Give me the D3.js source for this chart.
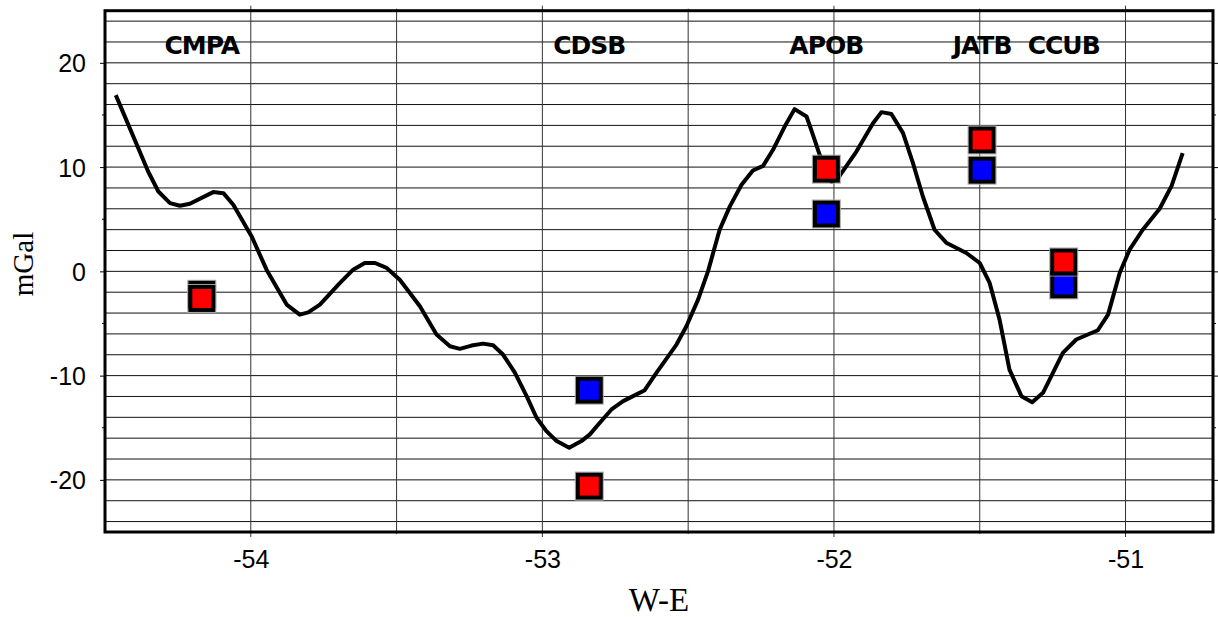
<!DOCTYPE html>
<html>
<head>
<meta charset="utf-8">
<script src="https://cdn.jsdelivr.net/npm/d3@7"></script>
<style>
  html, body { margin: 0; padding: 0; background: #fff; }
  svg { display: block; }
</style>
</head>
<body>
<svg id="chart" width="1218" height="617"></svg>
<script>
// Gravity anomaly profile along the W-E line (longitude, mGal)
const profileLon = [
  -54.463, -54.352, -54.317, -54.277, -54.243, -54.209, -54.129, -54.094, -54.060, -53.997,
  -53.946, -53.877, -53.832, -53.803, -53.763, -53.694, -53.649, -53.609, -53.574, -53.534,
  -53.489, -53.420, -53.363, -53.317, -53.283, -53.243, -53.203, -53.169, -53.135, -53.094,
  -53.054, -53.020, -52.986, -52.951, -52.908, -52.866, -52.837, -52.803, -52.763, -52.723,
  -52.689, -52.649, -52.609, -52.540, -52.506, -52.466, -52.432, -52.392, -52.357, -52.317,
  -52.278, -52.243, -52.209, -52.169, -52.135, -52.094, -52.072, -52.049, -52.008, -51.986,
  -51.923, -51.866, -51.837, -51.803, -51.763, -51.729, -51.695, -51.655, -51.615, -51.546,
  -51.500, -51.466, -51.432, -51.398, -51.357, -51.320, -51.283, -51.215, -51.169, -51.095,
  -51.060, -51.020, -50.986, -50.941, -50.883, -50.842, -50.804
];
const profileGal = [
   16.90,   9.58,   7.66,   6.55,   6.29,   6.48,   7.60,   7.50,   6.39,   3.35,
    0.16,  -3.19,  -4.15,  -3.93,  -3.19,  -1.11,   0.16,   0.80,   0.80,   0.33,
   -0.80,  -3.35,  -6.06,  -7.18,  -7.43,  -7.12,  -6.93,  -7.09,  -7.98,  -9.73,
  -11.97, -14.04, -15.33, -16.28, -16.92, -16.28, -15.64, -14.52, -13.25, -12.45,
  -11.97, -11.40,  -9.73,  -7.02,  -5.27,  -2.71,   0.00,   3.99,   6.23,   8.30,
    9.67,  10.12,  11.66,  13.89,  15.56,  14.85,  13.09,  11.18,   8.60,   8.95,
   11.49,  14.21,  15.27,  15.10,  13.26,  10.38,   7.18,   3.99,   2.75,   1.76,
    0.80,  -1.11,  -4.63,  -9.42, -11.97, -12.55, -11.65,  -7.82,  -6.54,  -5.65,
   -4.15,  -0.15,   2.08,   3.99,   6.00,   8.20,  11.35
];

// Station observations
const stationNames = ["CMPA", "CDSB", "APOB", "JATB", "CCUB"];
const stationLon   = [-54.168, -52.839, -52.026, -51.492, -51.212];
const blueValues   = [-2.2, -11.4, 5.5, 9.7, -1.3];
const redValues    = [-2.6, -20.6, 9.8, 12.6, 0.9];

// Axis ticks and labels
const xTickValues = [-54, -53, -52, -51];
const yTickValues = [-20, -10, 0, 10, 20];
const yMinorTicks = [-15, -5, 5, 15];
const xGridValues = [-54, -53.5, -53, -52.5, -52, -51.5, -51];
const yGridValues = d3.range(-24, 25, 2);

const plotLeft = 105, plotRight = 1213, plotTop = 10.7, plotBottom = 532;

const x = d3.scaleLinear().domain([-54.5, -50.7]).range([plotLeft, plotRight]);
const y = d3.scaleLinear().domain([-25, 25]).range([plotBottom, plotTop]);

const svg = d3.select("#chart");
const plainNumber = d => String(d);   // hyphen-minus, as printed on the axes

// horizontal grid
svg.append("g").selectAll("line").data(yGridValues).join("line")
  .attr("x1", plotLeft).attr("x2", plotRight)
  .attr("y1", d => y(d)).attr("y2", d => y(d))
  .attr("stroke", "#111").attr("stroke-width", 1);

// vertical grid (extending a little beyond the frame as ticks)
svg.append("g").selectAll("line").data(xGridValues).join("line")
  .attr("x1", d => x(d)).attr("x2", d => x(d))
  .attr("y1", d => Number.isInteger(d) ? plotTop - 5 : plotTop - 2)
  .attr("y2", d => Number.isInteger(d) ? plotBottom + 5 : plotBottom + 2)
  .attr("stroke", "#333").attr("stroke-width", 1);

// y ticks on both sides
const yAxisL = d3.axisLeft(y).tickValues(yTickValues).tickSize(5).tickPadding(14)
  .tickFormat(plainNumber);
const gL = svg.append("g").attr("transform", `translate(${plotLeft},0)`).call(yAxisL);
gL.select(".domain").remove();
gL.selectAll("text").attr("font-family", "'Liberation Sans', Arial, sans-serif")
  .attr("font-size", 25).attr("fill", "#000").attr("dy", "0.36em");
gL.selectAll("line").attr("stroke", "#000");

const gR = svg.append("g").attr("transform", `translate(${plotRight},0)`)
  .call(d3.axisRight(y).tickValues(yTickValues).tickSize(5).tickFormat(""));
gR.select(".domain").remove();
gR.selectAll("line").attr("stroke", "#000");

svg.append("g").selectAll("line").data(yMinorTicks).join("line")
  .attr("x1", plotLeft - 3).attr("x2", plotLeft)
  .attr("y1", d => y(d)).attr("y2", d => y(d)).attr("stroke", "#000");
svg.append("g").selectAll("line").data(yMinorTicks).join("line")
  .attr("x1", plotRight).attr("x2", plotRight + 3)
  .attr("y1", d => y(d)).attr("y2", d => y(d)).attr("stroke", "#000");

// x tick labels
const gX = svg.append("g").attr("transform", `translate(0,${plotBottom})`)
  .call(d3.axisBottom(x).tickValues(xTickValues).tickSize(0).tickPadding(18)
    .tickFormat(plainNumber));
gX.select(".domain").remove();
gX.selectAll("text").attr("font-family", "'Liberation Sans', Arial, sans-serif")
  .attr("font-size", 25).attr("fill", "#000");

// frame
svg.append("rect")
  .attr("x", plotLeft).attr("y", plotTop)
  .attr("width", plotRight - plotLeft).attr("height", plotBottom - plotTop)
  .attr("fill", "none").attr("stroke", "#000").attr("stroke-width", 3);

// profile line
const profile = profileLon.map((lon, i) => [lon, profileGal[i]]);
svg.append("path")
  .datum(profile)
  .attr("fill", "none").attr("stroke", "#000").attr("stroke-width", 4)
  .attr("stroke-linejoin", "round")
  .attr("d", d3.line().x(d => x(d[0])).y(d => y(d[1])));

// station markers: blue first, red on top
const markerSize = 23;
function drawMarkers(values, color) {
  const g = svg.append("g");
  const pts = stationLon.map((lon, i) => [lon, values[i]]);
  g.selectAll("rect.halo").data(pts).join("rect").attr("class", "halo")
    .attr("x", d => x(d[0]) - markerSize / 2 - 2.5)
    .attr("y", d => y(d[1]) - markerSize / 2 - 2.5)
    .attr("width", markerSize + 5).attr("height", markerSize + 5)
    .attr("fill", "none").attr("stroke", "#aaa").attr("stroke-width", 1);
  g.selectAll("rect.box").data(pts).join("rect").attr("class", "box")
    .attr("x", d => x(d[0]) - markerSize / 2)
    .attr("y", d => y(d[1]) - markerSize / 2)
    .attr("width", markerSize).attr("height", markerSize)
    .attr("fill", color).attr("stroke", "#000").attr("stroke-width", 4);
}
drawMarkers(blueValues, "#0000ff");
drawMarkers(redValues, "#ff0000");

// station names
svg.append("g").selectAll("text").data(stationNames).join("text")
  .attr("x", (d, i) => x(stationLon[i]))
  .attr("y", 54)
  .attr("text-anchor", "middle")
  .attr("font-family", "'DejaVu Sans', 'Liberation Sans', sans-serif")
  .attr("font-weight", "bold")
  .attr("font-size", 25)
  .attr("letter-spacing", -1)
  .text(d => d);

// axis titles
svg.append("text")
  .attr("x", 659).attr("y", 611)
  .attr("text-anchor", "middle")
  .attr("font-family", "'Liberation Serif', 'Times New Roman', serif")
  .attr("font-size", 33)
  .text("W-E");

svg.append("text")
  .attr("transform", "translate(33,264) rotate(-90)")
  .attr("text-anchor", "middle")
  .attr("font-family", "'Liberation Serif', 'Times New Roman', serif")
  .attr("font-size", 29)
  .text("mGal");
</script>
</body>
</html>
